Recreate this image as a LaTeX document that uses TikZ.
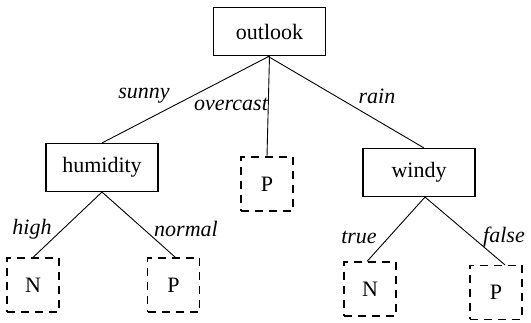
\documentclass[tikz,border=0pt]{standalone}
\usepackage{fontspec}
\setmainfont{Liberation Serif}
\begin{document}
\begin{tikzpicture}[x=1pt,y=-1pt,
  inner/.style={draw, line width=1.1pt, minimum width=112pt, minimum height=48pt, font=\fontsize{22}{26}\selectfont},
  leaf/.style={draw, line width=1.1pt, dash pattern=on 8pt off 6pt, minimum width=52pt, minimum height=54pt, font=\fontsize{22}{26}\selectfont},
  lbl/.style={font=\fontsize{22}{26}\selectfont\itshape, inner sep=0pt},
  edge/.style={line width=0.9pt}]
\useasboundingbox (0,0) rectangle (531,323);
\node[inner] (outlook) at (269.5,31.5) {outlook};
\node[inner] (humidity) at (102,167.5) {humidity};
\node[leaf] (p0) at (267,184) {P};
\node[inner] (windy) at (419,172.5) {windy};
\node[leaf] (n1) at (33,285) {N};
\node[leaf] (p1) at (173.5,285) {P};
\node[leaf] (n2) at (370,289) {N};
\node[leaf] (p2) at (496,292.5) {P};
\draw[edge] (outlook.south) -- (humidity.north);
\draw[edge] (outlook.south) -- (p0.north);
\draw[edge] ([xshift=-2pt]outlook.south) -- ([xshift=5pt]windy.north);
\draw[edge] (humidity.south) -- (n1.north);
\draw[edge] (humidity.south) -- ([xshift=2pt]p1.north);
\draw[edge] ([xshift=6pt]windy.south) -- ([xshift=-3pt]n2.north);
\draw[edge] ([xshift=6pt]windy.south) -- ([xshift=9pt]p2.north);
\node[lbl] (lsunny) at (144,96) {sunny};
\node[lbl] (lover) at (231,104) {overcast};
\node[lbl] (lrain) at (377,96) {rain};
\node[lbl] (lhigh) at (32,229) {high};
\node[lbl] (lnormal) at (186,229) {normal};
\node[lbl] (ltrue) at (359,237) {true};
\node[lbl] (lfalse) at (504,237) {false};
\end{tikzpicture}
\end{document}
